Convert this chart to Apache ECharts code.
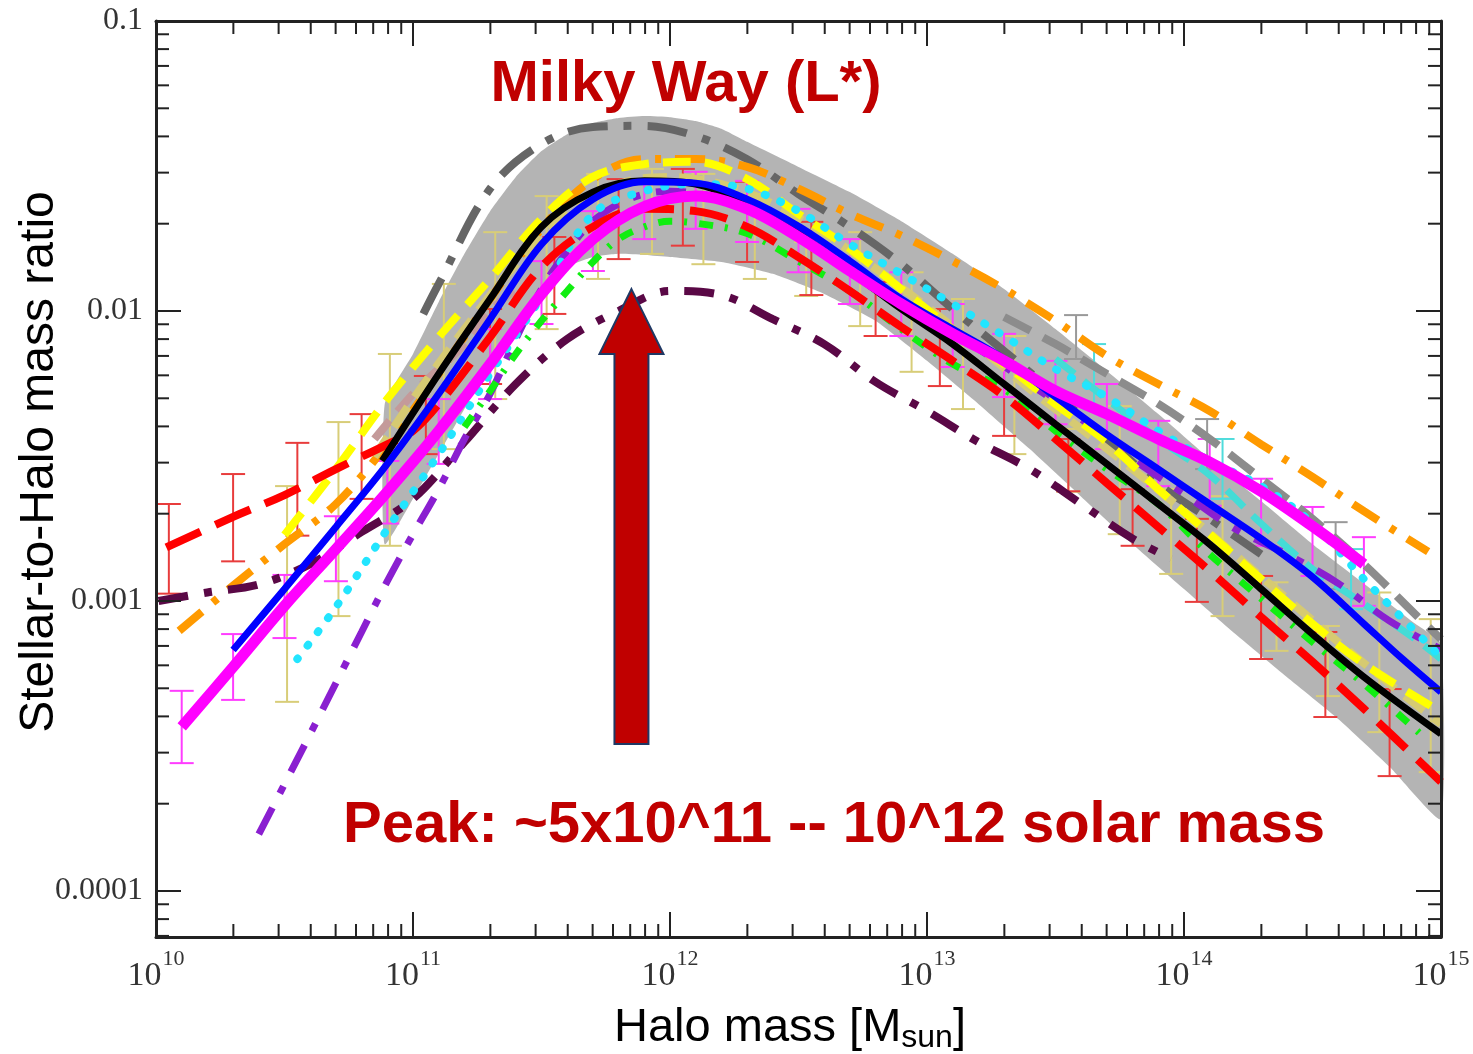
<!DOCTYPE html>
<html lang="en">
<head>
    <meta charset="UTF-8">
    <title>Stellar-to-Halo mass ratio</title>
    <style>
        html, body { margin: 0; padding: 0; background: #fff; }
        #main { width: 1473px; height: 1054px; }
    </style>
</head>
<body>
<div id="main"></div>
<script src="https://cdn.jsdelivr.net/npm/echarts@6/dist/echarts.min.js"></script>
<script type="text/javascript">
    // halo masses are kept as log10(M/Msun), ratios as plain numbers
    var xMin = 1e10, xMax = 1e15;
    var yMin = 6.94e-5, yMax = 0.1;

    // grey shaded band
    var bandUpperLogM = [10.89, 11.0, 11.1, 11.2, 11.3, 11.4, 11.5, 11.6, 11.7, 11.8, 11.9, 12.0, 12.1, 12.2, 12.3, 12.5, 12.7, 12.9, 13.1, 13.3, 13.5, 13.7, 13.9, 14.1, 14.3, 14.5, 14.7, 14.9, 15.0];
    var bandUpper = [4.78e-3, 7.11e-3, 0.01074, 0.01574, 0.0221, 0.0290, 0.0356, 0.0407, 0.0445, 0.0463, 0.0470, 0.0466, 0.0452, 0.0425, 0.0383, 0.0314, 0.0257, 0.0204, 0.01574, 0.0119, 8.66e-3, 6.21e-3, 4.41e-3, 3.09e-3, 2.21e-3, 1.57e-3, 1.15e-3, 8.34e-4, 7.11e-4];
    var bandLowerLogM = [10.89, 11.0, 11.1, 11.2, 11.3, 11.4, 11.5, 11.6, 11.7, 11.8, 11.9, 12.0, 12.2, 12.4, 12.6, 12.8, 13.0, 13.2, 13.4, 13.6, 13.8, 14.0, 14.2, 14.4, 14.6, 14.8, 15.0];
    var bandLower = [1.57e-3, 2.25e-3, 3.21e-3, 4.59e-3, 6.56e-3, 9.25e-3, 0.0121, 0.0142, 0.01535, 0.01574, 0.0156, 0.01535, 0.01476, 0.01343, 0.01145, 9.25e-3, 6.73e-3, 4.78e-3, 3.34e-3, 2.29e-3, 1.57e-3, 1.10e-3, 7.69e-4, 5.47e-4, 3.92e-4, 2.68e-4, 1.77e-4];

    // curves
    var magentaLogM = [10.1, 10.3, 10.5, 10.7, 10.9, 11.1, 11.3, 11.5, 11.7, 11.9, 12.1, 12.3, 12.5, 12.7, 12.9, 13.1, 13.3, 13.5, 13.7, 13.9, 14.1, 14.3, 14.5, 14.7];
    var magentaRatio = [3.68e-4, 5.92e-4, 9.62e-4, 1.51e-3, 2.38e-3, 3.86e-3, 6.56e-3, 0.01145, 0.0177, 0.0229, 0.0249, 0.0225, 0.0180, 0.01374, 0.01057, 8.34e-3, 6.73e-3, 5.30e-3, 4.41e-3, 3.62e-3, 3.01e-3, 2.39e-3, 1.81e-3, 1.34e-3];

    var blueLogM = [10.3, 10.5, 10.7, 10.9, 11.1, 11.3, 11.5, 11.7, 11.9, 12.1, 12.3, 12.5, 12.7, 12.9, 13.1, 13.3, 13.5, 13.7, 13.9, 14.1, 14.3, 14.5, 14.7, 14.85, 15.0];
    var blueRatio = [6.78e-4, 1.10e-3, 1.80e-3, 2.97e-3, 5.18e-3, 9.37e-3, 0.0170, 0.0243, 0.0279, 0.0276, 0.0243, 0.0196, 0.01486, 0.0110, 8.66e-3, 6.83e-3, 5.05e-3, 3.75e-3, 2.85e-3, 2.16e-3, 1.64e-3, 1.21e-3, 8.34e-4, 6.31e-4, 4.85e-4];

    var blackLogM = [10.88, 11.1, 11.3, 11.5, 11.7, 11.9, 12.1, 12.3, 12.5, 12.7, 12.9, 13.1, 13.3, 13.5, 13.7, 13.9, 14.1, 14.3, 14.5, 14.7, 15.0];
    var blackRatio = [3.04e-3, 6.07e-3, 0.0110, 0.0195, 0.0257, 0.0281, 0.0274, 0.0234, 0.0185, 0.01374, 0.01016, 7.69e-3, 5.60e-3, 4.07e-3, 2.97e-3, 2.16e-3, 1.57e-3, 1.10e-3, 7.69e-4, 5.47e-4, 3.48e-4];

    var yellowLogM = [10.5, 10.7, 10.9, 11.1, 11.3, 11.5, 11.7, 11.9, 12.1, 12.3, 12.5, 12.7, 12.9, 13.1, 13.3, 13.5, 13.7, 13.9, 14.1, 14.3, 14.5, 14.7, 15.0];
    var yellowRatio = [1.69e-3, 2.85e-3, 4.97e-3, 8.13e-3, 0.0129, 0.0208, 0.0290, 0.0321, 0.0327, 0.0285, 0.0216, 0.0164, 0.0119, 8.66e-3, 6.56e-3, 4.78e-3, 3.53e-3, 2.43e-3, 1.70e-3, 1.19e-3, 8.34e-4, 6.07e-4, 4.14e-4];

    var khakiLogM = [10.85, 11.0, 11.2, 11.4, 11.6, 11.8, 12.0, 12.2, 12.4, 12.6, 12.8, 13.0, 13.2, 13.4, 13.6, 13.8, 14.0, 14.2, 14.4, 14.6, 14.8, 15.0];
    var khakiRatio = [3.14e-3, 4.97e-3, 8.66e-3, 0.0145, 0.0216, 0.0274, 0.0290, 0.0274, 0.0234, 0.0185, 0.0140, 0.01033, 7.52e-3, 5.38e-3, 3.92e-3, 2.85e-3, 2.04e-3, 1.44e-3, 1.02e-3, 7.22e-4, 5.18e-4, 3.77e-4];

    var orangeLogM = [10.09, 10.3, 10.5, 10.7, 10.9, 11.1, 11.3, 11.5, 11.7, 11.9, 12.1, 12.3, 12.5, 12.7, 12.9, 13.1, 13.3, 13.5, 13.7, 13.9, 14.1, 14.3, 14.5, 14.7, 14.95];
    var orangeRatio = [7.89e-4, 1.13e-3, 1.57e-3, 2.16e-3, 3.47e-3, 6.07e-3, 0.0110, 0.0192, 0.0285, 0.0334, 0.0334, 0.0314, 0.0264, 0.0216, 0.0182, 0.01486, 0.0119, 9.25e-3, 7.0e-3, 5.60e-3, 4.52e-3, 3.47e-3, 2.68e-3, 2.04e-3, 1.48e-3];

    var darkGrayLogM = [11.04, 11.1, 11.3, 11.5, 11.7, 11.9, 12.1, 12.3, 12.5, 12.7, 12.9, 13.1, 13.3, 13.5, 13.7, 13.9, 14.1, 14.3];
    var darkGrayRatio = [9.77e-3, 0.0124, 0.0264, 0.0377, 0.0431, 0.0435, 0.0401, 0.0334, 0.0253, 0.0195, 0.0145, 0.01016, 7.28e-3, 5.18e-3, 3.62e-3, 2.53e-3, 1.92e-3, 1.45e-3];

    var lightGrayLogM = [13.3, 13.5, 13.7, 13.9, 14.1, 14.3, 14.5, 14.7, 14.9, 15.0];
    var lightGrayRatio = [9.53e-3, 7.69e-3, 6.07e-3, 4.78e-3, 3.62e-3, 2.64e-3, 1.92e-3, 1.34e-3, 9.0e-4, 7.39e-4];

    var redLogM = [10.04, 10.3, 10.5, 10.7, 10.9, 11.0, 11.1, 11.3, 11.5, 11.7, 11.9, 12.1, 12.3, 12.5, 12.7, 12.9, 13.1, 13.3, 13.5, 13.7, 13.9, 14.1, 14.3, 14.5, 14.7, 15.0];
    var redRatio = [1.53e-3, 1.95e-3, 2.32e-3, 2.85e-3, 3.47e-3, 3.86e-3, 4.78e-3, 8.13e-3, 0.0142, 0.0195, 0.0225, 0.0221, 0.0195, 0.01535, 0.01172, 8.81e-3, 6.73e-3, 5.09e-3, 3.62e-3, 2.55e-3, 1.80e-3, 1.27e-3, 8.81e-4, 6.17e-4, 4.25e-4, 2.38e-4];

    var maroonLogM = [10.01, 10.2, 10.4, 10.6, 10.8, 11.0, 11.2, 11.4, 11.6, 11.8, 12.0, 12.2, 12.4, 12.6, 12.8, 13.0, 13.2, 13.4, 13.6, 13.8, 13.95];
    var maroonRatio = [1.0e-3, 1.07e-3, 1.14e-3, 1.34e-3, 1.73e-3, 2.25e-3, 3.53e-3, 5.60e-3, 8.0e-3, 0.0100, 0.01172, 0.01135, 9.37e-3, 7.69e-3, 5.69e-3, 4.52e-3, 3.53e-3, 2.85e-3, 2.16e-3, 1.64e-3, 1.40e-3];

    var purpleLogM = [10.4, 10.6, 10.8, 10.9, 11.0, 11.1, 11.2, 11.3, 11.4, 11.5, 11.6, 11.7, 11.8, 11.9, 12.0, 12.2, 12.4, 12.6, 12.8, 13.0, 13.2, 13.4, 13.6, 13.8, 14.0, 14.2, 14.4, 14.6, 14.8, 15.0];
    var purpleRatio = [1.57e-4, 3.48e-4, 7.82e-4, 1.17e-3, 1.70e-3, 2.43e-3, 3.62e-3, 5.18e-3, 8.0e-3, 0.0119, 0.0161, 0.0204, 0.0234, 0.0253, 0.0259, 0.0243, 0.0204, 0.0164, 0.0124, 9.37e-3, 7.39e-3, 5.60e-3, 4.24e-3, 3.09e-3, 2.34e-3, 1.77e-3, 1.45e-3, 1.15e-3, 8.53e-4, 6.83e-4];

    var cyanLogM = [10.55, 10.7, 10.9, 11.1, 11.3, 11.5, 11.7, 11.9, 12.1, 12.3, 12.5, 12.7, 12.9, 13.1, 13.3, 13.5, 13.7, 13.9, 14.1, 14.3, 14.5, 14.7, 14.98];
    var cyanRatio = [6.31e-4, 9.53e-4, 1.77e-3, 3.21e-3, 6.07e-3, 0.01118, 0.0216, 0.0259, 0.0274, 0.0264, 0.0221, 0.0170, 0.01343, 0.01057, 8.2e-3, 6.31e-3, 5.05e-3, 3.86e-3, 3.04e-3, 2.49e-3, 1.85e-3, 1.19e-3, 6.67e-4];

    var greenLogM = [11.2, 11.3, 11.4, 11.5, 11.6, 11.7, 11.8, 11.9, 12.0, 12.1, 12.3, 12.5, 12.7, 12.9, 13.1, 13.3, 13.5, 13.7, 13.9, 14.1, 14.3, 14.5, 14.7, 14.92];
    var greenRatio = [3.98e-3, 5.30e-3, 7.11e-3, 9.25e-3, 0.01172, 0.01476, 0.0177, 0.0195, 0.0204, 0.0201, 0.0185, 0.01486, 0.01172, 8.66e-3, 6.56e-3, 5.38e-3, 3.86e-3, 2.85e-3, 2.16e-3, 1.45e-3, 1.02e-3, 7.22e-4, 5.18e-4, 3.48e-4];

    var rosyLogM = [10.85, 11.0, 11.1, 11.2, 11.3, 11.4];
    var rosyRatio = [3.62e-3, 5.18e-3, 6.31e-3, 7.69e-3, 0.0100, 0.0119];

    var turquoiseLogM = [13.5, 13.7, 13.9, 14.1, 14.3, 14.5, 14.7, 14.9, 15.0];
    var turquoiseRatio = [6.83e-3, 4.97e-3, 3.62e-3, 2.72e-3, 1.85e-3, 1.29e-3, 9.77e-4, 7.39e-4, 6.31e-4];

    // error bars: [low, high]
    var redBarLogM = [10.05, 10.3, 10.55, 10.8, 11.05, 11.3, 11.55, 11.8, 12.05, 12.3, 12.55, 12.8, 13.05, 13.3, 13.55, 13.8, 14.05, 14.3, 14.55, 14.8];
    var redBarHi = [2.16e-3, 2.74e-3, 3.51e-3, 4.41e-3, 5.97e-3, 0.01016, 0.0180, 0.0285, 0.0309, 0.0279, 0.0203, 0.0126, 0.01016, 6.67e-3, 3.62e-3, 2.43e-3, 1.92e-3, 1.22e-3, 7.82e-4, 4.97e-4];
    var redBarLo = [1.06e-3, 1.37e-3, 1.68e-3, 2.25e-3, 3.21e-3, 5.60e-3, 9.77e-3, 0.0151, 0.0168, 0.01476, 0.01135, 8.2e-3, 5.51e-3, 3.71e-3, 2.39e-3, 1.55e-3, 9.93e-4, 6.31e-4, 3.98e-4, 2.49e-4];

    var khakiBarLogM = [10.51, 10.71, 10.91, 11.12, 11.32, 11.52, 11.72, 11.93, 12.13, 12.33, 12.53, 12.74, 12.94, 13.14, 13.34, 13.55, 13.75, 13.95, 14.15, 14.36, 14.56, 14.76, 14.96];
    var khakiBarHi = [2.49e-3, 4.14e-3, 7.11e-3, 0.0124, 0.0187, 0.0249, 0.0297, 0.0309, 0.0297, 0.0253, 0.0173, 0.0187, 0.0136, 0.0110, 8.2e-3, 3.92e-3, 4.70e-3, 2.43e-3, 2.30e-3, 1.16e-3, 8.2e-4, 1.07e-3, 8.66e-4];
    var khakiBarLo = [4.49e-4, 8.87e-4, 1.55e-3, 3.34e-3, 4.97e-3, 8.66e-3, 0.0129, 0.01574, 0.0145, 0.0129, 0.01127, 8.87e-3, 6.17e-3, 4.59e-3, 3.21e-3, 2.38e-3, 1.70e-3, 1.24e-3, 8.87e-4, 6.73e-4, 4.70e-4, 3.53e-4, 2.57e-4];

    var magentaBarHi = [4.90e-4, 7.69e-4, 1.23e-3, 1.96e-3, 3.04e-3, 4.97e-3, 8.66e-3, 0.01486, 0.0221, 0.0279, 0.0302, 0.0281, 0.0225, 0.0177, 0.0136, 0.01057, 8.34e-3, 6.73e-3, 5.6e-3, 4.18e-3, 3.62e-3, 2.64e-3, 2.11e-3, 1.66e-3];
    var magentaBarLo = [2.76e-4, 4.56e-4, 7.45e-4, 1.17e-3, 1.85e-3, 2.97e-3, 4.97e-3, 9.02e-3, 0.01374, 0.0177, 0.0192, 0.0173, 0.0136, 0.01057, 8.2e-3, 6.41e-3, 5.05e-3, 4.07e-3, 3.34e-3, 2.49e-3, 2.13e-3, 1.55e-3, 1.22e-3, 9.62e-4];

    var grayBarLogM = [13.58, 14.09, 14.59];
    var grayBarHi = [9.68e-3, 4.24e-3, 1.87e-3];
    var grayBarLo = [6.83e-3, 2.85e-3, 1.10e-3];

    var turqBarLogM = [13.65, 14.15, 14.65];
    var turqBarHi = [7.69e-3, 3.62e-3, 1.51e-3];
    var turqBarLo = [4.59e-3, 2.25e-3, 9.37e-4];

    // arrow marking the peak
    var arrowLogM = 11.85;
    var arrowTip = 0.0119, arrowHeadBase = 7.11e-3, arrowTail = 3.21e-4;

    var myChart = echarts.init(document.getElementById('main'));

    function toPts(logM, ratio) {
        return logM.map(function (lm, i) { return [Math.pow(10, lm), ratio[i]]; });
    }

    function curve(name, logM, ratio, color, width, dash, z, cap) {
        return {
            name: name,
            type: 'line',
            data: toPts(logM, ratio),
            smooth: 0.35,
            symbol: 'none',
            silent: true,
            z: z,
            lineStyle: { color: color, width: width, type: dash || 'solid', cap: cap || 'butt' }
        };
    }

    function errorBars(name, logM, lo, hi, color, width, z) {
        return {
            name: name,
            type: 'custom',
            silent: true,
            z: z,
            encode: { x: 0, y: [1, 2] },
            data: logM.map(function (lm, i) { return [Math.pow(10, lm), lo[i], hi[i]]; }),
            renderItem: function (params, api) {
                var m = api.value(0);
                var a = api.coord([m, api.value(1)]);
                var b = api.coord([m, api.value(2)]);
                var st = { stroke: color, lineWidth: width };
                var cap = 12;
                return {
                    type: 'group',
                    children: [
                        { type: 'line', shape: { x1: a[0], y1: a[1], x2: b[0], y2: b[1] }, style: st },
                        { type: 'line', shape: { x1: a[0] - cap, y1: a[1], x2: a[0] + cap, y2: a[1] }, style: st },
                        { type: 'line', shape: { x1: b[0] - cap, y1: b[1], x2: b[0] + cap, y2: b[1] }, style: st }
                    ]
                };
            }
        };
    }

    // minor ticks of the log axes (2..9 in every decade), drawn on all four sides
    var minorTicks = [];
    for (var d = 10; d < 15; d++) {
        for (var k = 2; k < 10; k++) minorTicks.push([k * Math.pow(10, d), yMin, 0]);
    }
    for (var d2 = -5; d2 < -1; d2++) {
        for (var k2 = 2; k2 < 10; k2++) {
            var v = k2 * Math.pow(10, d2);
            if (v > yMin && v < yMax) minorTicks.push([xMin, v, 1]);
        }
    }

    function isDecade(v) {
        var e = Math.log10(v);
        return Math.abs(e - Math.round(e)) < 1e-6;
    }

    var axisLine = { onZero: false, lineStyle: { color: '#222', width: 3 } };
    var majorTick = { inside: true, length: 25, lineStyle: { color: '#222', width: 2 } };

    var option = {
        backgroundColor: '#ffffff',
        animation: false,
        grid: { left: 156, right: 32, top: 21, bottom: 117 },
        xAxis: [{
            type: 'log',
            logBase: 10,
            min: xMin,
            max: xMax,
            position: 'bottom',
            z: 30,
            axisLine: axisLine,
            axisTick: majorTick,
            splitLine: { show: false },
            axisLabel: {
                margin: 11,
                formatter: function (val) {
                    if (!isDecade(val)) return '';
                    return '{b|10}{s|' + Math.round(Math.log10(val)) + '}';
                },
                rich: {
                    // tall line box for the base, exponent pinned to its top
                    b: { fontFamily: 'Liberation Serif', fontSize: 34, color: '#333', lineHeight: 45, verticalAlign: 'bottom' },
                    s: { fontFamily: 'Liberation Serif', fontSize: 22, color: '#333', lineHeight: 22, verticalAlign: 'top', padding: [0, 0, 0, 1] }
                }
            }
        }, {
            type: 'log',
            logBase: 10,
            min: xMin,
            max: xMax,
            position: 'top',
            z: 30,
            axisLine: axisLine,
            axisTick: majorTick,
            splitLine: { show: false },
            axisLabel: { show: false }
        }],
        yAxis: [{
            type: 'log',
            logBase: 10,
            min: yMin,
            max: yMax,
            position: 'left',
            z: 30,
            axisLine: axisLine,
            axisTick: majorTick,
            splitLine: { show: false },
            axisLabel: {
                margin: 13,
                fontFamily: 'Liberation Serif',
                fontSize: 32,
                color: '#333',
                formatter: function (val) {
                    return isDecade(val) ? String(val) : '';
                }
            }
        }, {
            type: 'log',
            logBase: 10,
            min: yMin,
            max: yMax,
            position: 'right',
            z: 30,
            axisLine: axisLine,
            axisTick: majorTick,
            splitLine: { show: false },
            axisLabel: { show: false }
        }],
        graphic: [{
            type: 'text',
            x: 40,
            y: 462,
            rotation: Math.PI / 2,
            style: { text: 'Stellar-to-Halo mass ratio', font: '48px "Liberation Sans"', fill: '#000', align: 'center', verticalAlign: 'middle' }
        }, {
            type: 'text',
            x: 790,
            y: 1028,
            style: {
                text: '{a|Halo mass [M}{b|sun}{a|]}',
                align: 'center',
                verticalAlign: 'middle',
                rich: {
                    a: { fontFamily: 'Liberation Sans', fontSize: 47, lineHeight: 47, fill: '#000', verticalAlign: 'top' },
                    b: { fontFamily: 'Liberation Sans', fontSize: 32, lineHeight: 32, fill: '#000', verticalAlign: 'top', padding: [18, 0, 0, 0] }
                }
            }
        }, {
            type: 'text',
            x: 686,
            y: 85,
            z: 100,
            style: { text: 'Milky Way (L*)', font: 'bold 58px "Liberation Sans"', fill: '#c00000', align: 'center', verticalAlign: 'middle' }
        }, {
            type: 'text',
            x: 834,
            y: 826,
            z: 100,
            style: { text: 'Peak: ~5x10^11 -- 10^12 solar mass', font: 'bold 58px "Liberation Sans"', fill: '#c00000', align: 'center', verticalAlign: 'middle' }
        }],
        series: [{
            name: 'band',
            type: 'custom',
            silent: true,
            z: 1,
            encode: { x: 0, y: 1 },
            data: [[Math.pow(10, bandUpperLogM[0]), bandUpper[0]]],
            renderItem: function (params, api) {
                var pts = [];
                bandUpperLogM.forEach(function (lm, i) { pts.push(api.coord([Math.pow(10, lm), bandUpper[i]])); });
                for (var i = bandLowerLogM.length - 1; i >= 0; i--) {
                    pts.push(api.coord([Math.pow(10, bandLowerLogM[i]), bandLower[i]]));
                }
                return { type: 'polygon', shape: { points: pts, smooth: 0.15 }, style: { fill: '#b4b4b4' } };
            }
        },
            errorBars('khaki bars', khakiBarLogM, khakiBarLo, khakiBarHi, '#d8cd78', 2, 2),
            errorBars('red bars', redBarLogM, redBarLo, redBarHi, '#e83c3c', 2, 2),
            errorBars('magenta bars', magentaLogM, magentaBarLo, magentaBarHi, '#ff3cff', 2, 2),
            errorBars('gray bars', grayBarLogM, grayBarLo, grayBarHi, '#999999', 2, 2),
            errorBars('turquoise bars', turqBarLogM, turqBarLo, turqBarHi, '#4fdcdc', 2, 2),
            curve('dark gray', darkGrayLogM, darkGrayRatio, '#666666', 8, [40, 16, 8, 16], 3),
            curve('light gray', lightGrayLogM, lightGrayRatio, '#8c8c8c', 8, [30, 14], 3),
            curve('turquoise', turquoiseLogM, turquoiseRatio, '#44dcd6', 7, [24, 12], 3),
            curve('orange', orangeLogM, orangeRatio, '#ff9a00', 8, [30, 14, 6, 14], 4),
            curve('maroon', maroonLogM, maroonRatio, '#5a0846', 8, [30, 16, 8, 16], 4),
            curve('purple', purpleLogM, purpleRatio, '#8a1fd0', 7, [30, 16, 8, 16], 4),
            curve('rosy', rosyLogM, rosyRatio, '#c49a9a', 8, [24, 12], 4),
            curve('khaki', khakiLogM, khakiRatio, '#d6ca72', 8, [24, 12], 5),
            curve('yellow', yellowLogM, yellowRatio, '#ffff00', 8, [28, 14], 5),
            curve('cyan', cyanLogM, cyanRatio, '#22e5ff', 8, [1, 16], 5, 'round'),
            curve('green', greenLogM, greenRatio, '#11ee11', 7, [14, 12, 3, 12], 5),
            curve('red', redLogM, redRatio, '#ff0000', 8, [38, 16], 6),
            curve('black', blackLogM, blackRatio, '#000000', 7, 'solid', 7),
            curve('blue', blueLogM, blueRatio, '#0000ff', 7, 'solid', 8),
            curve('magenta', magentaLogM, magentaRatio, '#ff00ff', 11, 'solid', 9),
        {
            name: 'minor ticks',
            type: 'custom',
            silent: true,
            z: 20,
            encode: { x: 0, y: 1 },
            data: minorTicks,
            renderItem: function (params, api) {
                var cs = params.coordSys;
                var p = api.coord([api.value(0), api.value(1)]);
                var st = { stroke: '#222', lineWidth: 2 };
                var len = 13;
                var kids;
                if (api.value(2) === 0) {
                    kids = [
                        { type: 'line', shape: { x1: p[0], y1: cs.y + cs.height, x2: p[0], y2: cs.y + cs.height - len }, style: st },
                        { type: 'line', shape: { x1: p[0], y1: cs.y, x2: p[0], y2: cs.y + len }, style: st }
                    ];
                } else {
                    kids = [
                        { type: 'line', shape: { x1: cs.x, y1: p[1], x2: cs.x + len, y2: p[1] }, style: st },
                        { type: 'line', shape: { x1: cs.x + cs.width, y1: p[1], x2: cs.x + cs.width - len, y2: p[1] }, style: st }
                    ];
                }
                return { type: 'group', children: kids };
            }
        }, {
            name: 'arrow',
            type: 'custom',
            silent: true,
            z: 25,
            encode: { x: 0, y: [1, 2, 3] },
            data: [[Math.pow(10, arrowLogM), arrowTip, arrowHeadBase, arrowTail]],
            renderItem: function (params, api) {
                var m = api.value(0);
                var tip = api.coord([m, api.value(1)]);
                var base = api.coord([m, api.value(2)]);
                var tail = api.coord([m, api.value(3)]);
                var cx = tip[0], hw = 32, sw = 17;
                return {
                    type: 'polygon',
                    shape: {
                        points: [
                            [cx, tip[1]], [cx + hw, base[1]], [cx + sw, base[1]], [cx + sw, tail[1]],
                            [cx - sw, tail[1]], [cx - sw, base[1]], [cx - hw, base[1]]
                        ]
                    },
                    style: { fill: '#c00000', stroke: '#1f3864', lineWidth: 2 }
                };
            }
        }]
    };

    myChart.setOption(option);
</script>
</body>
</html>
